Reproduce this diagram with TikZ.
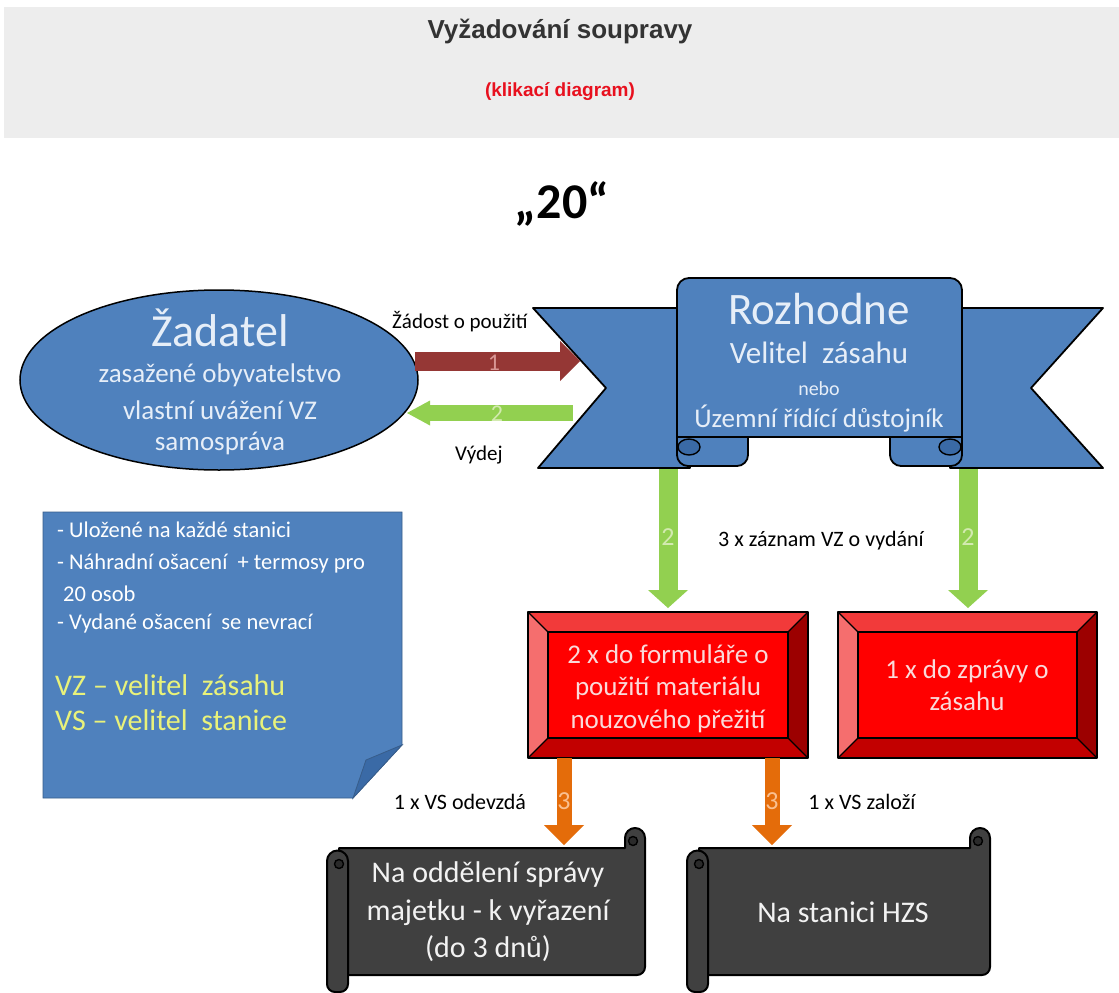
\documentclass[tikz,border=0pt]{standalone}
\usepackage{fontspec}
\setmainfont{Carlito}
\newfontfamily\arialf{Liberation Sans}
\usetikzlibrary{arrows.meta,shapes.geometric}
\definecolor{hdr}{HTML}{EDEDED}
\definecolor{ttl}{HTML}{333333}
\definecolor{kred}{HTML}{E8101E}
\definecolor{oblue}{HTML}{4F81BD}
\definecolor{oblued}{HTML}{3A6AA6}
\definecolor{noteln}{HTML}{385D8A}
\definecolor{ltxt}{HTML}{E6EEF8}
\definecolor{darr}{HTML}{953735}
\definecolor{darrt}{HTML}{D99694}
\definecolor{garr}{HTML}{92D050}
\definecolor{garrt}{HTML}{D3EAB0}
\definecolor{oarr}{HTML}{E46C0A}
\definecolor{oarrt}{HTML}{FAC090}
\definecolor{bvin}{HTML}{FF0000}
\definecolor{bvtop}{HTML}{F23A3A}
\definecolor{bvleft}{HTML}{F56E6E}
\definecolor{bvright}{HTML}{9C0000}
\definecolor{bvbot}{HTML}{C20000}
\definecolor{boxtxt}{HTML}{FADADA}
\definecolor{scrlfill}{HTML}{404040}
\definecolor{scrld}{HTML}{2A2A2A}
\definecolor{yeltxt}{HTML}{E9F27A}
\tikzset{
 tx/.style={inner sep=0pt, anchor=base, yshift={-0.3*#1pt}, font=\fontsize{#1}{#1}\selectfont},
 txl/.style={tx=#1, anchor=base west},
 txa/.style={inner sep=0pt, anchor=base, yshift={-0.3*#1pt}, font=\arialf\bfseries\fontsize{#1}{#1}\selectfont},
 txb/.style={inner sep=0pt, anchor=base, yshift={-0.3*#1pt}, font=\bfseries\fontsize{#1}{#1}\selectfont},
 barr/.style n args={4}{draw=#4, line width=#1, -{Triangle[length=#2, width=#3, line width=0pt, fill=#4, color=#4]}},
 rib/.style={draw=black, line width=1.8pt, fill=oblue, line join=round},
 scrlsty/.style={draw=black, line width=2pt, fill=scrlfill, line join=round},
}
\newcommand\bevbox[5]{%
 \fill[bvin] (#1,#2) rectangle (#3,#4);
 \fill[bvtop] (#1,#2) -- (#3,#2) -- (#3-#5,#2+#5) -- (#1+#5,#2+#5) -- cycle;
 \fill[bvbot] (#1,#4) -- (#3,#4) -- (#3-#5,#4-#5) -- (#1+#5,#4-#5) -- cycle;
 \fill[bvleft] (#1,#2) -- (#1+#5,#2+#5) -- (#1+#5,#4-#5) -- (#1,#4) -- cycle;
 \fill[bvright] (#3,#2) -- (#3-#5,#2+#5) -- (#3-#5,#4-#5) -- (#3,#4) -- cycle;
 \draw[line width=1.3pt] (#1+#5,#2+#5) rectangle (#3-#5,#4-#5);
 \draw[line width=1.3pt] (#1,#2) -- (#1+#5,#2+#5) (#3,#2) -- (#3-#5,#2+#5) (#1,#4) -- (#1+#5,#4-#5) (#3,#4) -- (#3-#5,#4-#5);
 \draw[line width=2.5pt, line join=round] (#1,#2) rectangle (#3,#4);
}
\newcommand\scrollshape[2]{%
 \draw[scrlsty] (#1+12,848) -- (#2-20,848) -- (#2-20,838) arc[start angle=180, end angle=360, radius=10] -- (#2,967) arc[start angle=0, end angle=90, radius=8] -- (#1+12,975) -- cycle;
 \draw[scrlsty, line width=1.4pt, fill=scrld] (#2-12,841) circle[radius=4.5];
 \draw[scrlsty] (#1,861) -- (#1,984) arc[start angle=180, end angle=90, radius=8] -- (#1+13,992) arc[start angle=90, end angle=0, radius=8] -- (#1+21,861) arc[start angle=0, end angle=-180, radius=10.5] -- cycle;
 \draw[scrlsty, line width=1.4pt, fill=scrld] (#1+12,864) circle[radius=4.5];
}
\begin{document}
\begin{tikzpicture}[x=1pt,y=-1pt]
\useasboundingbox[fill=white] (0,0) rectangle (1119,993);
% header
\fill[hdr] (4,7) rectangle (1119,138);
\node[txa=26, text=ttl] (title) at (560,31) {Vyžadování soupravy};
\node[txa=19, text=kred] (sub) at (560,91) {(klikací diagram)};
\node[txb=50] (twenty) at (562,203) {„20“};

% vertical green arrows (behind ribbon)
\coordinate (g2a) at (668,455); \coordinate (g2b) at (668,608);
\coordinate (g3a) at (968,455); \coordinate (g3b) at (968,608);
\draw[barr={19pt}{18pt}{40pt}{garr}] (g2a) -- (g2b);
\draw[barr={19pt}{18pt}{40pt}{garr}] (g3a) -- (g3b);
\node[tx=26, text=garrt] (n2a) at (668,538) {2};
\node[tx=26, text=garrt] (n2b) at (968,538) {2};
\node[tx=22] (zaznam) at (821,540) {3 x záznam VZ o vydání};

% ribbon
\draw[rib] (533,308) -- (690,308) -- (690,468) -- (538,468) -- (606,388) -- cycle;
\draw[rib] (1103,308) -- (950,308) -- (950,468) -- (1103,468) -- (1031,388) -- cycle;
\draw[rib, rounded corners=11] (677,430) -- (677,466) -- (748,466) -- (748,430);
\draw[rib, rounded corners=11] (890,430) -- (890,466) -- (962,466) -- (962,430);
\draw[rib, fill=oblued, line width=1.4pt] (689,447) ellipse [x radius=11, y radius=8];
\draw[rib, fill=oblued, line width=1.4pt] (950,447) ellipse [x radius=11, y radius=8];
\draw[rib] (677,437) -- (677,290) arc[start angle=180, end angle=270, radius=12] -- (950,278) arc[start angle=270, end angle=360, radius=12] -- (962,437) -- cycle;
\node[tx=45, text=ltxt] (rozh) at (819,311) {Rozhodne};
\node[tx=31, text=ltxt] (velz) at (819,354) {Velitel~~zásahu};
\node[tx=20, text=ltxt] (nebo) at (819,389) {nebo};
\node[tx=27, text=ltxt] (uzem) at (819,419) {Územní řídící důstojník};

% applicant ellipse
\node[ellipse, draw=black, line width=1.5pt, fill=oblue, minimum width=398pt, minimum height=180pt, inner sep=0pt] (zad) at (219,380) {};
\node[tx=46, text=ltxt] (zad1) at (220,333) {Žadatel};
\node[tx=27, text=ltxt] (zad2) at (220,374) {zasažené obyvatelstvo};
\node[tx=27, text=ltxt] (zad3) at (220,411) {vlastní uvážení VZ};
\node[tx=27, text=ltxt] (zad4) at (220,442) {samospráva};

% horizontal arrows
\coordinate (r1a) at (415,361); \coordinate (r1b) at (580,361);
\draw[barr={19pt}{20pt}{40pt}{darr}] (r1a) -- (r1b);
\node[tx=24, text=darrt] (n1) at (494,363) {1};
\coordinate (g1a) at (573,413); \coordinate (g1b) at (407,413);
\draw[barr={16pt}{23pt}{25pt}{garr}] (g1a) -- (g1b);
\node[tx=24, text=garrt] (n2) at (497,414) {2};
\node[txl=21] (zadost) at (392,322) {Žádost o použití};
\node[txl=21] (vydej) at (455,454) {Výdej};

% note
\draw[fill=oblue, draw=noteln, line width=0.8pt] (43,512) -- (402,512) -- (402,745) -- (353,798) -- (43,798) -- cycle;
\draw[fill=oblued, draw=noteln, line width=0.8pt] (402,745) -- (366,760) -- (353,798) -- cycle;
\node[txl=22.5, text=white] (nt1) at (57,531) {- Uložené na každé stanici};
\node[txl=22.5, text=white] (nt2) at (57,563) {- Náhradní ošacení~ + termosy pro};
\node[txl=22.5, text=white] (nt3) at (63,595) {20 osob};
\node[txl=22.5, text=white] (nt4) at (57,623) {- Vydané ošacení~ se nevrací};
\node[txl=30, text=yeltxt] (nt5) at (55,686) {VZ – velitel~ zásahu};
\node[txl=30, text=yeltxt] (nt6) at (55,721) {VS – velitel~ stanice};

% red boxes
\bevbox{528}{612}{808}{758}{20}
\bevbox{838}{612}{1097}{758}{20}
\node[tx=27, text=boxtxt] (f1) at (668,655) {2 x do formuláře o};
\node[tx=27, text=boxtxt] (f2) at (668,687) {použití materiálu};
\node[tx=27, text=boxtxt] (f3) at (668,720) {nouzového přežití};
\node[tx=27, text=boxtxt] (z1) at (967,670) {1 x do zprávy o};
\node[tx=27, text=boxtxt] (z2) at (967,702) {zásahu};

% orange arrows
\coordinate (o1a) at (564,758); \coordinate (o1b) at (564,845);
\coordinate (o2a) at (772,758); \coordinate (o2b) at (772,845);
\draw[barr={15pt}{20pt}{40pt}{oarr}] (o1a) -- (o1b);
\draw[barr={15pt}{20pt}{40pt}{oarr}] (o2a) -- (o2b);
\node[tx=26, text=oarrt] (n3a) at (564,802) {3};
\node[tx=26, text=oarrt] (n3b) at (772,802) {3};
\node[tx=22] (odev) at (460,803) {1 x VS odevzdá};
\node[tx=22] (zalo) at (862,803) {1 x VS založí};

% scrolls
\scrollshape{327}{645}
\scrollshape{687}{990}
\node[tx=30, text=white!95!black] (s1) at (488,873) {Na oddělení správy};
\node[tx=30, text=white!95!black] (s2) at (488,911) {majetku - k vyřazení};
\node[tx=30, text=white!95!black] (s3) at (488,948) {(do 3 dnů)};
\node[tx=30, text=white!95!black] (s4) at (843,913) {Na stanici HZS};
\end{tikzpicture}
\end{document}
